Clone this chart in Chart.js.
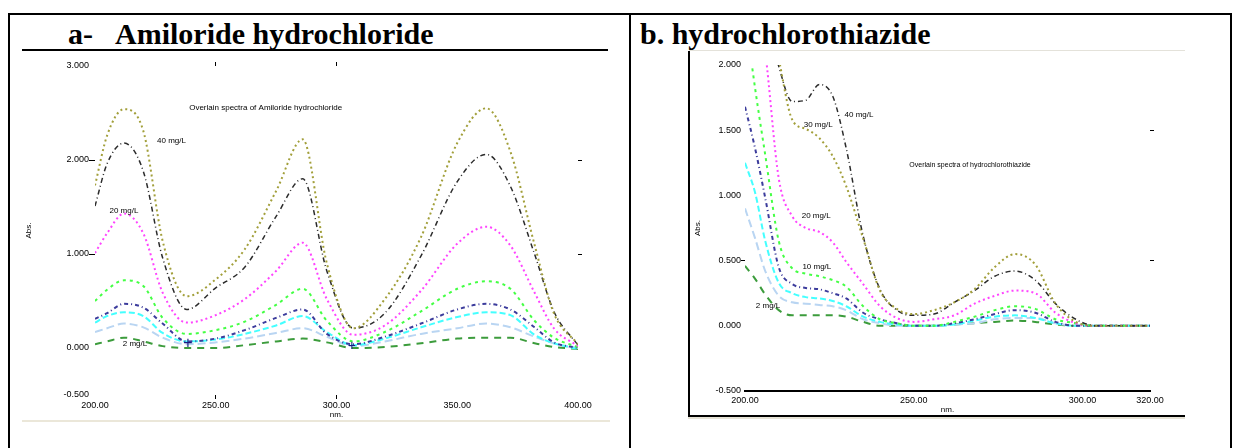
<!DOCTYPE html>
<html>
<head>
<meta charset="utf-8">
<script src="https://cdn.jsdelivr.net/npm/chart.js@4.4.0/dist/chart.umd.min.js"></script>
<style>
    body { margin: 0; background: #fff; width: 1234px; height: 448px; overflow: hidden; position: relative; }
    .frame { position: absolute; left: 8px; top: 13px; width: 1220px; height: 460px; border: 2px solid #000; }
    .divider { position: absolute; left: 629px; top: 13px; width: 2px; height: 440px; background: #000; }
    .head { position: absolute; top: 19px; font: bold 30px/30px "Liberation Serif", "Times New Roman", serif; white-space: nowrap; color: #000; }
    .rule { position: absolute; left: 22px; top: 49px; width: 586px; height: 2px; background: #000; }
    canvas { position: absolute; }
    #chartA { left: 22px; top: 52px; }
    #chartB { left: 692px; top: 52px; }
    .imgEdgeA { position: absolute; left: 22px; top: 420px; width: 588px; height: 2px; background: #ebe7d9; }
    .imgTopB { position: absolute; left: 689px; top: 50px; width: 496px; height: 1px; background: #e4e2da; }
    .imgLeftB { position: absolute; left: 688px; top: 51px; width: 2px; height: 366px; background: #000; }
    .imgBotB { position: absolute; left: 688px; top: 415px; width: 497px; height: 2px; background: #000; }
    .imgShadeB { position: absolute; left: 688px; top: 417px; width: 497px; height: 2px; background: #e6e3d6; }
</style>
</head>
<body>
<div class="frame"></div>
<div class="divider"></div>
<div class="head" style="left:68px">a-</div>
<div class="head" style="left:115px">Amiloride hydrochloride</div>
<div class="rule"></div>
<div class="head" style="left:640px">b. hydrochlorothiazide</div>
<canvas id="chartA" width="588" height="368"></canvas>
<div class="imgEdgeA"></div>
<div class="imgTopB"></div>
<div class="imgLeftB"></div>
<canvas id="chartB" width="493" height="363"></canvas>
<div class="imgBotB"></div>
<div class="imgShadeB"></div>
<script>
// ---- a- Amiloride hydrochloride (wavelength nm / absorbance) ----
const wlA = [200, 205, 212, 220, 228, 238, 250, 262, 275, 286, 296, 307, 320, 335, 350, 362, 372, 382, 390, 400];
const amOlive = [1.73, 2.26, 2.54, 2.31, 1.14, 0.55, 0.73, 1.05, 1.67, 2.22, 0.9, 0.21, 0.52, 1.18, 2.18, 2.55, 2.09, 1.1, 0.37, 0.04];
const amBlack = [1.51, 1.96, 2.18, 1.88, 0.96, 0.41, 0.64, 0.86, 1.4, 1.8, 0.82, 0.21, 0.37, 0.98, 1.77, 2.06, 1.72, 1.0, 0.39, 0.03];
const amMagenta = [1.01, 1.22, 1.43, 1.22, 0.59, 0.27, 0.35, 0.52, 0.82, 1.12, 0.52, 0.14, 0.24, 0.61, 1.11, 1.29, 1.09, 0.59, 0.21, 0.02];
const amGreen = [0.5, 0.62, 0.72, 0.66, 0.32, 0.15, 0.19, 0.28, 0.46, 0.63, 0.29, 0.07, 0.17, 0.39, 0.63, 0.71, 0.63, 0.29, 0.11, 0.01];
const amNavy = [0.31, 0.37, 0.47, 0.43, 0.26, 0.07, 0.1, 0.19, 0.32, 0.41, 0.15, 0.04, 0.12, 0.26, 0.41, 0.47, 0.41, 0.22, 0.06, 0.0];
const amCyan = [0.27, 0.34, 0.38, 0.34, 0.16, 0.07, 0.09, 0.15, 0.24, 0.34, 0.17, 0.03, 0.1, 0.22, 0.33, 0.38, 0.35, 0.14, 0.05, -0.01];
const amSky = [0.17, 0.21, 0.26, 0.22, 0.11, 0.04, 0.06, 0.1, 0.16, 0.21, 0.12, 0.02, 0.07, 0.15, 0.21, 0.26, 0.22, 0.12, 0.05, 0.0];
const amDkGreen = [0.04, 0.07, 0.11, 0.07, 0.02, 0.0, 0.0, 0.03, 0.07, 0.1, 0.06, 0.0, 0.01, 0.05, 0.1, 0.11, 0.11, 0.05, 0.01, -0.01];
const xTicksA = [200, 250, 300, 350, 400];
const yTicksA = [-0.5, 0, 1, 2, 3];

// ---- b. hydrochlorothiazide ----
const wlB = [200, 203, 206, 210, 214, 218, 222, 226, 230, 235, 240, 245, 250, 256, 262, 268, 274, 280, 286, 292, 298, 304, 310, 320];
const hcOlive = [3.2, 2.9, 2.6, 2.05, 1.58, 1.51, 1.44, 1.3, 1.07, 0.67, 0.27, 0.13, 0.09, 0.12, 0.18, 0.28, 0.45, 0.55, 0.47, 0.17, 0.03, 0, 0, 0];
const hcBlack = [3.0, 2.7, 2.4, 1.99, 1.72, 1.73, 1.85, 1.76, 1.36, 0.69, 0.28, 0.12, 0.08, 0.09, 0.18, 0.27, 0.38, 0.42, 0.35, 0.17, 0.05, 0, 0, 0];
const hcMagenta = [2.9, 2.6, 2.1, 1.13, 0.84, 0.75, 0.72, 0.64, 0.49, 0.32, 0.15, 0.06, 0.03, 0.05, 0.08, 0.17, 0.23, 0.27, 0.25, 0.1, 0.02, 0, 0, 0];
const hcGreen = [2.4, 1.82, 1.31, 0.65, 0.44, 0.4, 0.38, 0.35, 0.3, 0.15, 0.05, 0.02, 0, 0, 0.03, 0.07, 0.12, 0.15, 0.13, 0.05, 0.02, 0, 0, 0];
const hcNavy = [1.68, 1.36, 0.98, 0.45, 0.32, 0.29, 0.28, 0.25, 0.21, 0.1, 0.05, 0.02, 0, 0, 0.02, 0.05, 0.09, 0.12, 0.1, 0.03, 0, 0, 0, 0];
const hcCyan = [1.25, 1.02, 0.65, 0.33, 0.25, 0.22, 0.21, 0.19, 0.15, 0.07, 0.03, 0.01, 0, 0, 0.01, 0.04, 0.07, 0.08, 0.06, 0.02, 0, 0, 0, 0];
const hcSky = [0.9, 0.67, 0.42, 0.23, 0.18, 0.17, 0.16, 0.15, 0.12, 0.05, 0.02, 0, 0, 0, 0.01, 0.02, 0.05, 0.06, 0.06, 0.02, 0, 0, 0, 0];
const hcDkGreen = [0.46, 0.36, 0.24, 0.12, 0.08, 0.08, 0.08, 0.08, 0.07, 0.03, 0, 0, 0, 0, 0.01, 0.02, 0.03, 0.04, 0.03, 0.01, 0, 0, 0, 0];
const xTicksB = [200, 250, 300, 320];
const yTicksB = [-0.5, 0, 0.5, 1, 1.5, 2];

// olive, black, magenta, green, navy, cyan, light blue, dark green
const lineStyles = [
    { color: "#a29f3a", dash: [2, 3], width: 2 },
    { color: "#2b2b2b", dash: [5, 3, 1, 3], width: 1.5 },
    { color: "#ff44ff", dash: [2, 3], width: 2 },
    { color: "#44ff44", dash: [3, 4], width: 2 },
    { color: "#3c3c9c", dash: [4, 3, 1, 3], width: 2 },
    { color: "#44ffff", dash: [6, 3], width: 2 },
    { color: "#b9d5f2", dash: [8, 4], width: 2 },
    { color: "#3c9c3c", dash: [7, 6], width: 2 },
];

Chart.defaults.font.family = '"Liberation Sans", Arial, sans-serif';
Chart.defaults.color = "#000";

// small text written inside the plot (title, concentration notes, cursor marks)
const notesPlugin = {
    id: "notes",
    afterDatasetsDraw(chart, args, opts) {
        const { ctx, scales } = chart;
        ctx.save();
        ctx.textBaseline = "middle";
        (opts.items || []).forEach((n) => {
            ctx.fillStyle = n.color || "#000";
            ctx.textAlign = n.align || "left";
            ctx.font = (n.bold ? "bold " : "") + (n.size || 8) + 'px "Liberation Sans", Arial, sans-serif';
            ctx.fillText(n.text, scales.x.getPixelForValue(n.x), scales.y.getPixelForValue(n.y));
        });
        ctx.restore();
    },
};

function buildDatasets(wl, seriesList) {
    return seriesList.map((vals, i) => ({
        data: wl.map((w, k) => ({ x: w, y: vals[k] })),
        borderColor: lineStyles[i].color,
        borderDash: lineStyles[i].dash,
        borderWidth: lineStyles[i].width,
        pointRadius: 0,
        cubicInterpolationMode: "monotone",
        fill: false,
    }));
}

const markColor = (marks) => (c) => (c.tick && marks.includes(c.tick.value) ? "#000" : "rgba(0,0,0,0)");
const setTicks = (list) => (s) => {
    s.ticks = list.map((v) => ({ value: v }));
};

new Chart(document.getElementById("chartA"), {
    type: "line",
    data: {
        datasets: buildDatasets(wlA, [amOlive, amBlack, amMagenta, amGreen, amNavy, amCyan, amSky, amDkGreen]),
    },
    options: {
        responsive: false,
        animation: false,
        layout: { padding: { top: 14, right: 32, left: 0, bottom: 0 } },
        plugins: {
            legend: { display: false },
            tooltip: { enabled: false },
            notes: {
                items: [
                    { x: 239, y: 2.56, text: "Overlain spectra of Amiloride hydrochloride", size: 8 },
                    { x: 225.7, y: 2.2, text: "40 mg/L", size: 8 },
                    { x: 206, y: 1.46, text: "20 mg/L", size: 8 },
                    { x: 211.5, y: 0.04, text: "2 mg/L", size: 8 },
                    { x: 238.5, y: 0.05, text: "+", size: 16, color: "#1a1a80", align: "center" },
                    { x: 306.4, y: 0.02, text: "+", size: 14, color: "#1a1a80", align: "center" },
                ],
            },
        },
        scales: {
            x: {
                type: "linear",
                min: 200,
                max: 400,
                afterBuildTicks: setTicks(xTicksA),
                afterFit: (s) => {
                    s.height = 25;
                },
                ticks: { callback: (v) => v.toFixed(2), font: { size: 9 }, padding: 1, maxRotation: 0, autoSkip: false },
                grid: { drawOnChartArea: false, tickLength: 4, color: markColor([250, 300]) },
                border: { display: false },
                title: { display: true, text: "nm.", font: { size: 8 }, padding: 0 },
            },
            y: {
                type: "linear",
                min: -0.5,
                max: 3,
                afterBuildTicks: setTicks(yTicksA),
                afterFit: (s) => {
                    s.width = 73;
                },
                ticks: { callback: (v) => v.toFixed(3), font: { size: 9 }, padding: 0 },
                grid: { drawOnChartArea: false, tickLength: 6, color: markColor([1, 2]) },
                border: { display: false },
                title: { display: true, text: "Abs.", font: { size: 8 }, padding: 2 },
            },
            xTop: {
                type: "linear",
                position: "top",
                min: 200,
                max: 400,
                afterBuildTicks: setTicks([250, 300]),
                afterFit: (s) => {
                    s.height = 0;
                },
                ticks: { display: false },
                grid: { drawOnChartArea: false, tickLength: 4, color: "#000" },
                border: { display: false },
            },
            yRight: {
                type: "linear",
                position: "right",
                min: -0.5,
                max: 3,
                afterBuildTicks: setTicks([1, 2]),
                afterFit: (s) => {
                    s.width = 0;
                },
                ticks: { display: false },
                grid: { drawOnChartArea: false, tickLength: 4, color: "#000" },
                border: { display: false },
            },
        },
    },
    plugins: [notesPlugin],
});

new Chart(document.getElementById("chartB"), {
    type: "line",
    data: {
        datasets: buildDatasets(wlB, [hcOlive, hcBlack, hcMagenta, hcGreen, hcNavy, hcCyan, hcSky, hcDkGreen]),
    },
    options: {
        responsive: false,
        animation: false,
        layout: { padding: { top: 13, right: 35, left: 0, bottom: 0 } },
        plugins: {
            legend: { display: false },
            tooltip: { enabled: false },
            notes: {
                items: [
                    { x: 248.7, y: 1.23, text: "Overlain spectra of hydrochlorothiazide", size: 7 },
                    { x: 229.5, y: 1.62, text: "40 mg/L", size: 8 },
                    { x: 217.4, y: 1.54, text: "30 mg/L", size: 8 },
                    { x: 216.8, y: 0.84, text: "20 mg/L", size: 8 },
                    { x: 217, y: 0.45, text: "10 mg/L", size: 8 },
                    { x: 203.2, y: 0.15, text: "2 mg/L", size: 8 },
                ],
            },
        },
        scales: {
            x: {
                type: "linear",
                min: 200,
                max: 320,
                afterBuildTicks: setTicks(xTicksB),
                afterFit: (s) => {
                    s.height = 24;
                },
                ticks: { callback: (v) => v.toFixed(2), font: { size: 9 }, padding: 4, maxRotation: 0, autoSkip: false },
                grid: { drawOnChartArea: false, drawTicks: false },
                border: { display: true, color: "#000", width: 2 },
                title: { display: true, text: "nm.", font: { size: 8 }, padding: 0 },
            },
            y: {
                type: "linear",
                min: -0.5,
                max: 2,
                afterBuildTicks: setTicks(yTicksB),
                afterFit: (s) => {
                    s.width = 53;
                },
                ticks: { callback: (v) => v.toFixed(3), font: { size: 9 }, padding: 0 },
                grid: { drawOnChartArea: false, tickLength: 4, color: markColor([0.5]) },
                border: { display: false },
                title: { display: true, text: "Abs.", font: { size: 8 }, padding: 1 },
            },
            yRight: {
                type: "linear",
                position: "right",
                min: -0.5,
                max: 2,
                afterBuildTicks: setTicks([0.5, 1.5]),
                afterFit: (s) => {
                    s.width = 0;
                },
                ticks: { display: false },
                grid: { drawOnChartArea: false, tickLength: 4, color: "#000" },
                border: { display: false },
            },
        },
    },
    plugins: [notesPlugin],
});
</script>
</body>
</html>
